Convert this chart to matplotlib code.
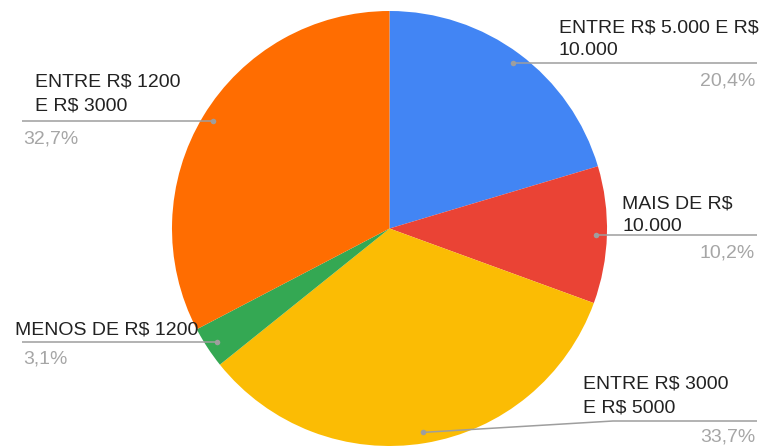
"""Pizza de faixas de renda com rótulos externos e linhas-guia."""

import numpy as np
import matplotlib

matplotlib.use("Agg")
import matplotlib.pyplot as plt

# Faixas no sentido horário a partir do topo
categories = [
    ["ENTRE R$ 5.000 E R$", "10.000"],
    ["MAIS DE R$", "10.000"],
    ["ENTRE R$ 3000", "E R$ 5000"],
    ["MENOS DE R$ 1200"],
    ["ENTRE R$ 1200", "E R$ 3000"],
]
shares = [20.4, 10.2, 33.7, 3.1, 32.7]
pct_labels = ["20,4%", "10,2%", "33,7%", "3,1%", "32,7%"]
colors = ["#4285F4", "#EA4335", "#FBBC04", "#34A853", "#FF6D01"]

W, H = 769, 446
CX, CY, R = 389.5, 228.5, 217.5

# lado, x da linha (fim), x do texto, baseline da 1a linha, y da linha, baseline do %
layout = [
    ("right", 757, 559, 32, None, 85),
    ("right", 757, 622, 208, None, 258),
    ("right", 757, 583, 389, 421, 441),
    ("left", 22, 15, 335, None, 364),
    ("left", 22, 35, 87, None, 143),
]

plt.rcParams["font.family"] = ["Liberation Sans", "DejaVu Sans"]
plt.rcParams["text.parse_math"] = False
FS = 14
LINE_H = 23

fig = plt.figure(figsize=(W / 100, H / 100), dpi=100)
ax = fig.add_axes([0, 0, 1, 1])

wedges, _ = ax.pie(
    shares,
    colors=colors,
    startangle=-90,
    counterclock=True,
    center=(CX, CY),
    radius=R,
    wedgeprops=dict(linewidth=0),
)
ax.set_xlim(0, W)
ax.set_ylim(H, 0)
ax.set_aspect("auto")
ax.axis("off")

for w, lines, pct, (side, x_end, x_txt, y_txt, y_line, y_pct) in zip(
    wedges, categories, pct_labels, layout
):
    mid = np.deg2rad((w.theta1 + w.theta2) / 2)
    dx = CX + 0.95 * R * np.cos(mid)
    dy = CY + 0.95 * R * np.sin(mid)
    if y_line is None:
        xs, ys = [dx, x_end], [dy, dy]
    else:
        xs, ys = [dx, 613, x_end], [dy, y_line, y_line]
    ax.plot(xs, ys, color="#9e9e9e", lw=1.1, solid_capstyle="butt", zorder=3)
    ax.plot(dx, dy, "o", ms=4, color="#9e9e9e", mec="none", zorder=4)

    for i, line in enumerate(lines):
        ax.text(x_txt, y_txt + i * LINE_H, line, fontsize=FS, color="#222222",
                ha="left", va="baseline")
    if side == "right":
        ax.text(755, y_pct, pct, fontsize=FS, color="#a6a6a6", ha="right", va="baseline")
    else:
        ax.text(23, y_pct, pct, fontsize=FS, color="#a6a6a6", ha="left", va="baseline")

fig.savefig("out.png", dpi=100)
